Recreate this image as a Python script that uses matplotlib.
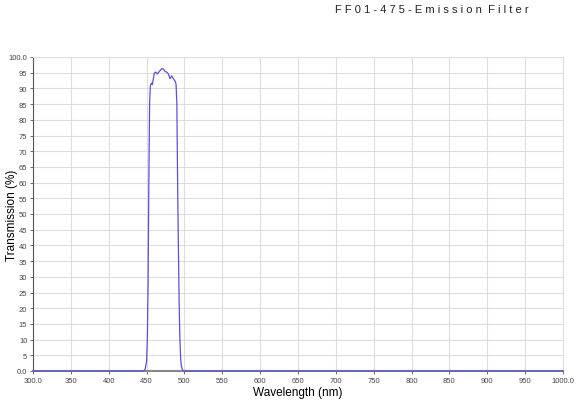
import numpy as np
import matplotlib.pyplot as plt
from matplotlib.ticker import FixedLocator

# Dane
wavelength = [300, 440, 446, 448, 450, 451, 452, 453, 454, 455, 456.8, 457.6, 460.3,
              462.0, 464.2, 466.9, 470.0, 472.2, 474.4, 476.6, 478.8, 481.0, 483.2,
              485.3, 488.0, 489.0, 490, 491, 492, 493, 494, 495, 496, 497.5, 499, 1000]
transmission = [0, 0, 0, 0.5, 3, 10, 28, 60, 85, 91.0, 91.7, 91.2, 94.9,
                95.2, 94.6, 95.4, 96.3, 96.2, 95.4, 95.2, 94.6, 93.1, 94.0,
                93.1, 92.2, 91.2, 85, 60, 40, 22, 10, 4, 1.5, 0.3, 0, 0]

x_ticks = [300, 350, 400, 450, 500, 550, 600, 650, 700, 750, 800, 850, 900, 950, 1000]
x_labels = ["300.0"] + [str(v) for v in x_ticks[1:-1]] + ["1000.0"]
y_ticks = list(range(0, 101, 5))
y_labels = ["0.0"] + [str(v) for v in y_ticks[1:-1]] + ["100.0"]

title = "FF01-475-Emission Filter"

plt.rcParams['font.family'] = ['Liberation Sans', 'DejaVu Sans']

fig = plt.figure(figsize=(5.8, 4.02), dpi=100)
ax = fig.add_axes([33 / 580, 1 - 372 / 402, 530 / 580, 314 / 402])

ax.plot(wavelength, transmission, color='#5a52d5', lw=0.9, zorder=3, clip_on=False)

ax.set_xlim(300, 1000)
ax.set_ylim(0, 100)
ax.xaxis.set_major_locator(FixedLocator(x_ticks))
ax.yaxis.set_major_locator(FixedLocator(y_ticks))
ax.set_xticklabels(x_labels)
ax.set_yticklabels(y_labels)
ax.tick_params(axis='both', labelsize=5.5, labelcolor='#444444', color='#555555',
               length=2.5, width=0.6, pad=1.5)
ax.grid(True, color='#dddddd', lw=0.8, zorder=0)
ax.set_axisbelow(True)

for side in ['top', 'right']:
    ax.spines[side].set_color('#dddddd')
    ax.spines[side].set_linewidth(0.8)
ax.spines['left'].set_color('#555555')
ax.spines['left'].set_linewidth(0.8)
ax.spines['bottom'].set_color('#888888')
ax.spines['bottom'].set_linewidth(1.5)

ax.set_xlabel("Wavelength (nm)", fontsize=8.5, labelpad=2)
fig.text(12 / 580, 1 - 215 / 402, "Transmission (%)", fontsize=8.5,
         rotation=90, ha='center', va='center')

spaced = "  ".join(w for w in [" ".join(part) for part in title.split(" ")])
fig.text(432 / 580, 1 - 10 / 402, spaced,
         fontsize=8, ha='center', va='center', color='#222222')

fig.savefig("out.png", dpi=100)
